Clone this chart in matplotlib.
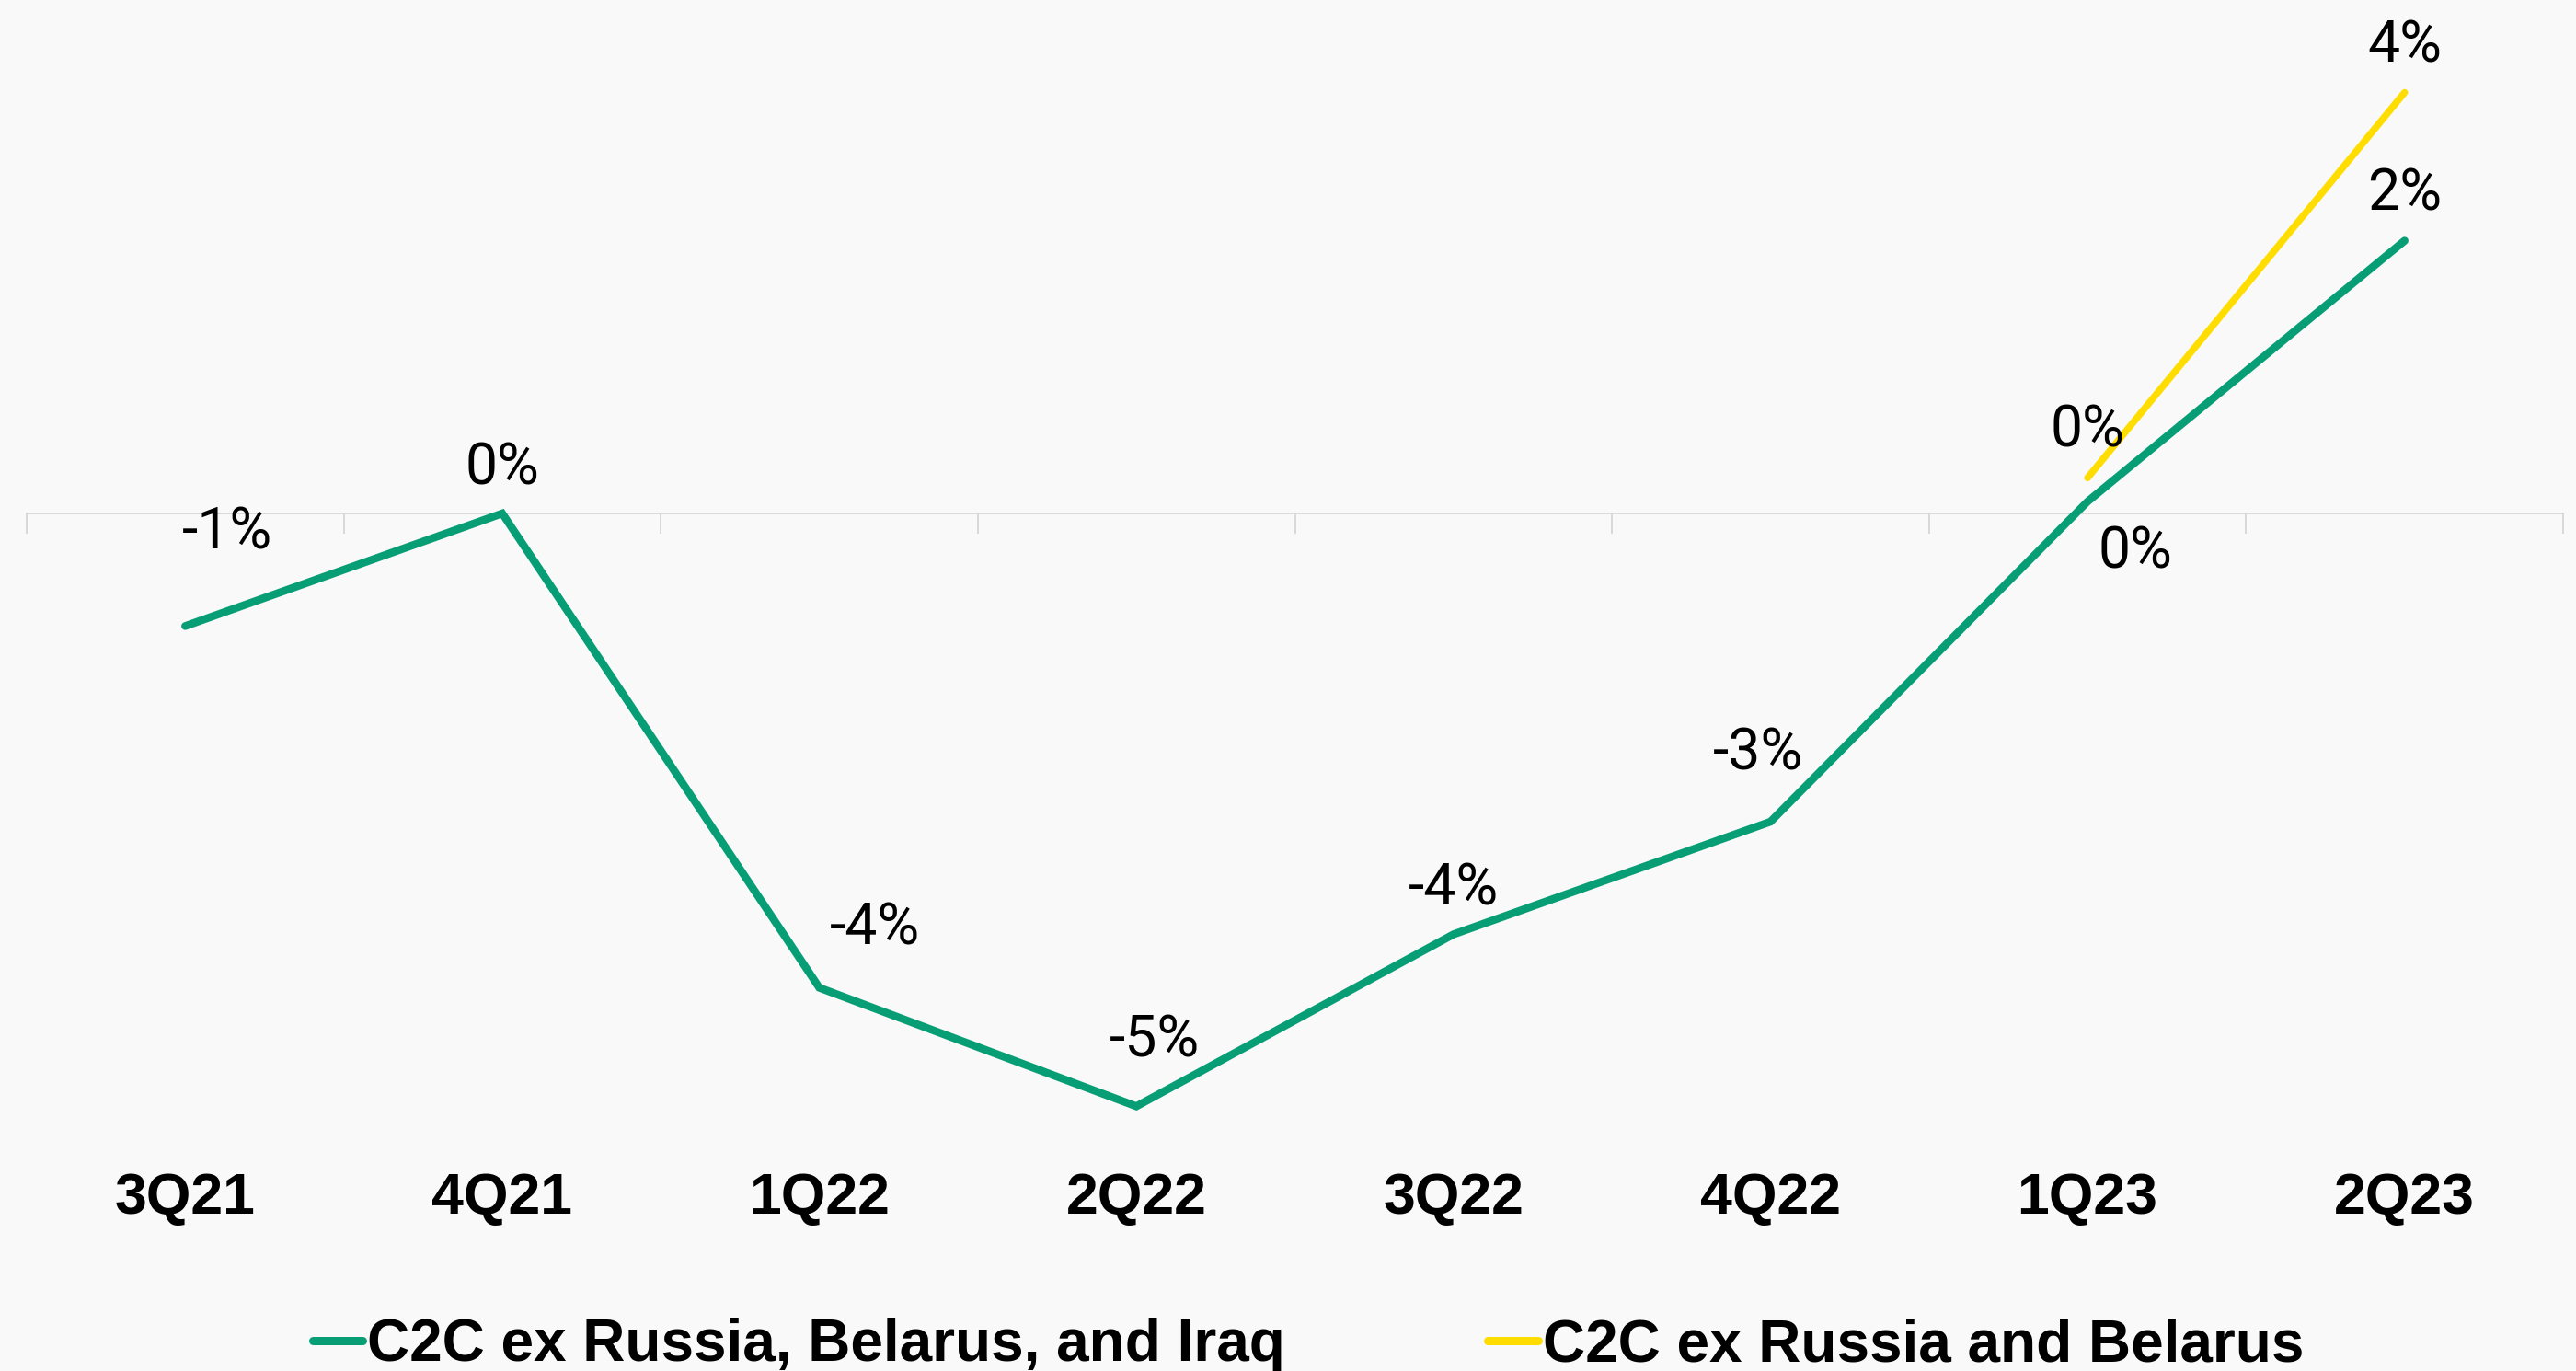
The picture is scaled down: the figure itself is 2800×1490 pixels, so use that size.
import numpy as np
import matplotlib
matplotlib.use("Agg")
import matplotlib.pyplot as plt
from matplotlib.lines import Line2D
from matplotlib.transforms import blended_transform_factory
from matplotlib.font_manager import FontProperties

# ---- data -------------------------------------------------------------
quarters = ["3Q21", "4Q21", "1Q22", "2Q22", "3Q22", "4Q22", "1Q23", "2Q23"]
c2c_ex_rbi = [-0.95, 0.0, -4.0, -5.0, -3.55, -2.6, 0.1, 2.3]
c2c_ex_rb = [np.nan, np.nan, np.nan, np.nan, np.nan, np.nan, 0.3, 3.55]
series_names = ["C2C ex Russia, Belarus, and Iraq", "C2C ex Russia and Belarus"]

# ---- styling ----------------------------------------------------------
BG = "#f9f9f9"
GREEN = "#079e76"
YELLOW = "#ffdd00"
GRID = "#d9d9d9"
DPI = 100
PX = 72 / DPI  # points per pixel

label_font = FontProperties(family=["Roboto", "DejaVu Sans"], size=45)
bold_font = FontProperties(family=["Liberation Sans", "DejaVu Sans"], weight="bold", size=45)
legend_font = FontProperties(family=["Liberation Sans", "DejaVu Sans"], weight="bold", size=46)

fig = plt.figure(figsize=(28, 14.9), dpi=DPI, facecolor=BG)
W, H = 2800, 1490
ax = fig.add_axes([29 / W, 240 / H, (2786 - 29) / W, 1250 / H])
ax.set_facecolor("none")

x = np.arange(len(quarters))
ax.set_xlim(-0.5, len(quarters) - 0.5)
ax.set_ylim(-5.37, 4.33)

# zero line with boundary ticks
for s in ["top", "right", "left"]:
    ax.spines[s].set_visible(False)
ax.spines["bottom"].set_position(("data", 0))
ax.spines["bottom"].set_color(GRID)
ax.spines["bottom"].set_linewidth(2 * PX)
ax.set_yticks([])
ax.set_xticks(x)
ax.set_xticklabels([])
ax.tick_params(axis="x", which="major", length=0)
ax.set_xticks(np.arange(-0.5, len(quarters)), minor=True)
ax.tick_params(axis="x", which="minor", length=22 * PX, width=2 * PX,
               color=GRID, direction="out")

# lines
ax.plot(x, c2c_ex_rbi, color=GREEN, lw=8.5 * PX, solid_capstyle="round",
        solid_joinstyle="miter", zorder=3)
ax.plot(x, c2c_ex_rb, color=YELLOW, lw=7.5 * PX, solid_capstyle="round",
        solid_joinstyle="miter", zorder=4)

# value labels (offsets in pixels: right, up)
green_offsets = [(46, 84), (0, 31), (60, 47), (20, 54), (0, 32), (-13, 57), (52, -72), (0, 33)]
yellow_offsets = [None] * 6 + [(0, 34), (0, 33)]

for xi, v, off in zip(x, c2c_ex_rbi, green_offsets):
    ax.annotate(f"{v:.0f}%", (xi, v), xytext=off, textcoords="offset pixels",
                ha="center", va="baseline", fontproperties=label_font,
                color="black", zorder=5)
for xi, v, off in zip(x, c2c_ex_rb, yellow_offsets):
    if np.isnan(v):
        continue
    ax.annotate(f"{v:.0f}%", (xi, v), xytext=off, textcoords="offset pixels",
                ha="center", va="baseline", fontproperties=label_font,
                color="black", zorder=5)

# category labels
trans = blended_transform_factory(ax.transData, fig.transFigure)
for xi, q in zip(x, quarters):
    ax.text(xi, (H - 1319) / H, q, transform=trans, ha="center", va="baseline",
            fontproperties=bold_font, color="black")

# legend
handles = [
    Line2D([], [], color=GREEN, lw=9 * PX, solid_capstyle="round"),
    Line2D([], [], color=YELLOW, lw=9 * PX, solid_capstyle="round"),
]
fig.legend(handles, series_names, loc="center", bbox_to_anchor=(1422 / W, (H - 1462) / H),
           ncol=2, frameon=False, prop=legend_font, handlelength=0.85,
           handletextpad=0.08, columnspacing=3.45, borderaxespad=0, borderpad=0)

fig.savefig("out.png", dpi=DPI, facecolor=BG)
